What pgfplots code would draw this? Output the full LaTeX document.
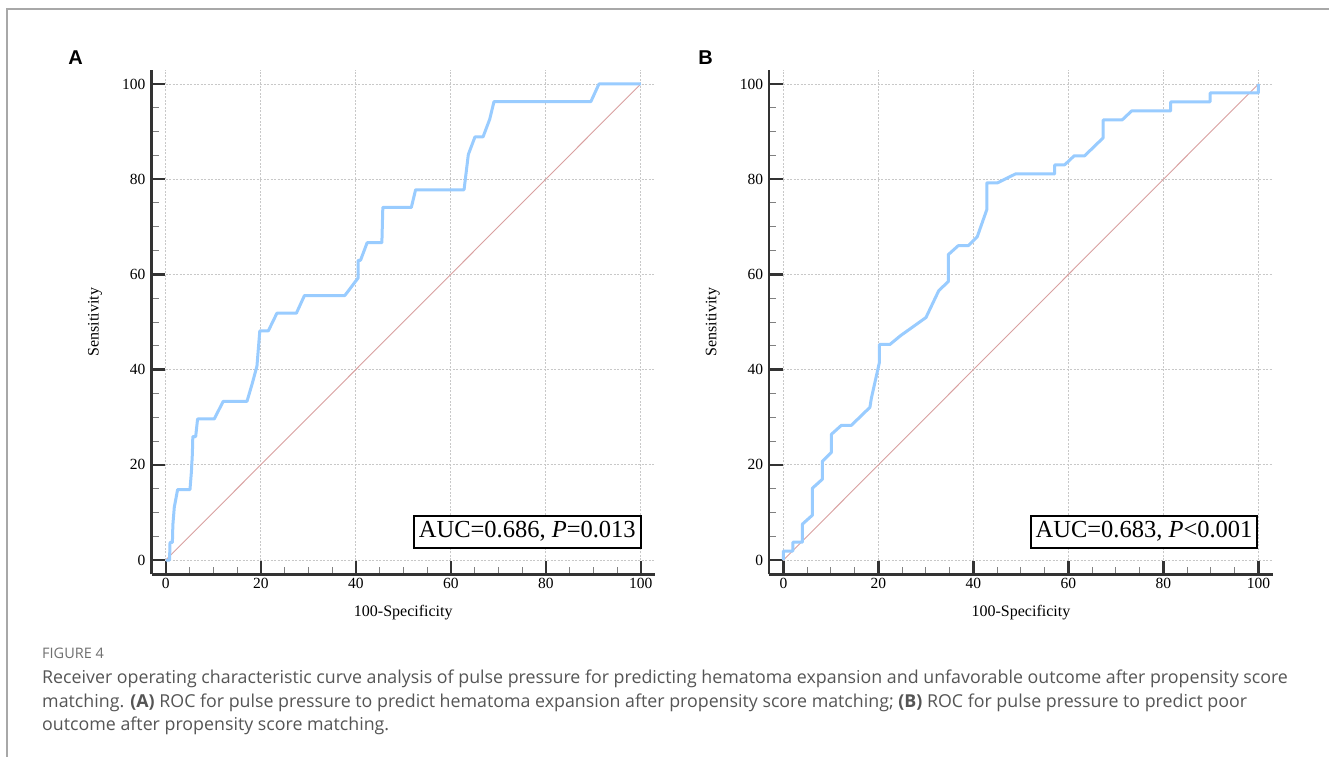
\documentclass[border=0pt]{standalone}
\usepackage{fontspec}
\setmainfont{Liberation Serif}
\newfontfamily\panelfont{Liberation Sans}
\newfontfamily\capfont{Open Sans}
\usepackage{pgfplots}
\pgfplotsset{compat=1.18}
\definecolor{roc}{HTML}{99CCFF}
\definecolor{diag}{HTML}{D9A0A0}
\definecolor{axgray}{HTML}{333333}
\definecolor{gridgray}{HTML}{C8C8C8}
\definecolor{captext}{HTML}{555555}
\definecolor{figlab}{HTML}{707070}
\definecolor{bordergray}{HTML}{A8A8A8}

\pgfplotsset{
  rocaxis/.style={
    scale only axis, width=503.5pt, height=504.6pt,
    xmin=-3, xmax=103, ymin=-3, ymax=103,
    axis x line*=bottom, axis y line*=left,
    axis line style={line width=2.4pt, color=axgray, -},
    xtick={0,20,...,100}, ytick={0,20,...,100},
    minor tick num=3,
    tick align=inside,
    major tick length=13.5pt, minor tick length=7pt,
    every major tick/.style={line width=2.4pt, color=axgray},
    every minor tick/.style={line width=1pt, color=gray},
    grid=major,
    major grid style={line width=0.8pt, color=gridgray, dash pattern=on 2pt off 1.5pt},
    /pgf/number format/assume math mode=true,
    ticklabel style={font=\fontsize{15.5}{18}\selectfont, color=black},
    yticklabel style={xshift=-2.5pt},
    label style={font=\fontsize{16}{19}\selectfont},
    xlabel={100-Specificity}, ylabel={Sensitivity},
    xlabel style={at={(axis description cs:0.5,-0.075)}, anchor=center},
    ylabel style={at={(axis description cs:-0.112,0.5)}, anchor=center},
    clip=false,
  },
}
\tikzset{
  aucbox/.style={draw=black, line width=2pt, fill=white, inner xsep=5pt, inner ysep=6pt,
    anchor=south east, font=\fontsize{24.5}{29}\selectfont},
}

\begin{document}
\begin{tikzpicture}
\useasboundingbox (0,0) rectangle (1329pt,-756pt);
\fill[white] (0,0) rectangle (1329pt,-756pt);
\draw[bordergray, line width=1.5pt] (7pt,-757pt) -- (7pt,-9pt) -- (1330pt,-9pt);

\node[font=\panelfont\bfseries\fontsize{20}{24}\selectfont] at (75.5pt,-57.5pt) {A};
\node[font=\panelfont\bfseries\fontsize{20}{24}\selectfont] at (705.5pt,-57.5pt) {B};

\begin{axis}[rocaxis, at={(151.5pt,-574.3pt)}, anchor=south west]
\addplot[diag, line width=0.9pt] coordinates {(0,0) (100,100)};
\addplot[roc, line width=3pt, line join=round] coordinates {
(0,0) (0.8,0) (0.9,3.70) (1.4,3.70) (1.5,7.41) (1.8,11.11) (2.5,14.81) (5.1,14.81)
(5.4,18.52) (5.6,22.22) (5.7,25.93) (6.3,25.93) (6.7,29.63) (10.2,29.63) (12.1,33.33)
(17.1,33.33) (18.2,37.04) (19.2,40.74) (19.8,48.15) (21.6,48.15) (23.4,51.85) (27.5,51.85)
(29.2,55.56) (37.7,55.56) (40.5,59.26) (40.5,62.96) (41.0,62.96) (42.4,66.67) (45.5,66.67)
(45.7,74.07) (51.7,74.07) (52.6,77.78) (62.8,77.78) (63.7,85.19) (65.1,88.89) (66.8,88.89)
(68.2,92.59) (69.1,96.30) (89.5,96.30) (91.2,100) (100,100)};
\node[aucbox] at (axis cs:100.2,2.4) {AUC=0.686, \textit{P}=0.013};
\end{axis}

\begin{axis}[rocaxis, at={(769.2pt,-574.3pt)}, anchor=south west]
\addplot[diag, line width=0.9pt] coordinates {(0,0) (100,100)};
\addplot[roc, line width=3pt, line join=round] coordinates {
(0,0) (0,1.89) (2.0,1.89) (2.0,3.77) (4.0,3.77) (4.0,7.55) (6.1,9.43) (6.1,15.09)
(8.2,16.98) (8.2,20.75) (10.1,22.64) (10.1,26.42) (12.2,28.30) (14.3,28.30) (18.2,32.08)
(18.5,33.96) (20.2,41.51) (20.2,45.28) (22.4,45.28) (24.7,47.17) (30.0,50.94) (32.7,56.60)
(34.7,58.49) (34.7,64.15) (36.8,66.04) (38.9,66.04) (40.8,67.92) (42.8,73.58) (42.8,79.25)
(45.1,79.25) (48.9,81.13) (57.1,81.13) (57.1,83.02) (59.2,83.02) (61.2,84.91) (63.4,84.91)
(67.3,88.68) (67.3,92.45) (71.3,92.45) (73.3,94.34) (81.5,94.34) (81.5,96.23) (89.8,96.23)
(89.8,98.11) (100,98.11) (100,100)};
\node[aucbox] at (axis cs:100.0,2.4) {AUC=0.683, \textit{P}<0.001};
\end{axis}

\node[anchor=base west, inner sep=0pt, text=figlab, font=\capfont\fontsize{14.5}{17}\selectfont] at (42pt,-658pt) {FIGURE 4};
\node[anchor=base west, inner sep=0pt, text=captext, font=\capfont\fontsize{17.8}{22}\selectfont] at (42pt,-683pt) {Receiver operating characteristic curve analysis of pulse pressure for predicting hematoma expansion and unfavorable outcome after propensity score};
\node[anchor=base west, inner sep=0pt, text=captext, font=\capfont\fontsize{17.8}{22}\selectfont] at (42pt,-707pt) {matching. \textbf{(A)} ROC for pulse pressure to predict hematoma expansion after propensity score matching; \textbf{(B)} ROC for pulse pressure to predict poor};
\node[anchor=base west, inner sep=0pt, text=captext, font=\capfont\fontsize{17.8}{22}\selectfont] at (42pt,-730pt) {outcome after propensity score matching.};
\end{tikzpicture}
\end{document}
